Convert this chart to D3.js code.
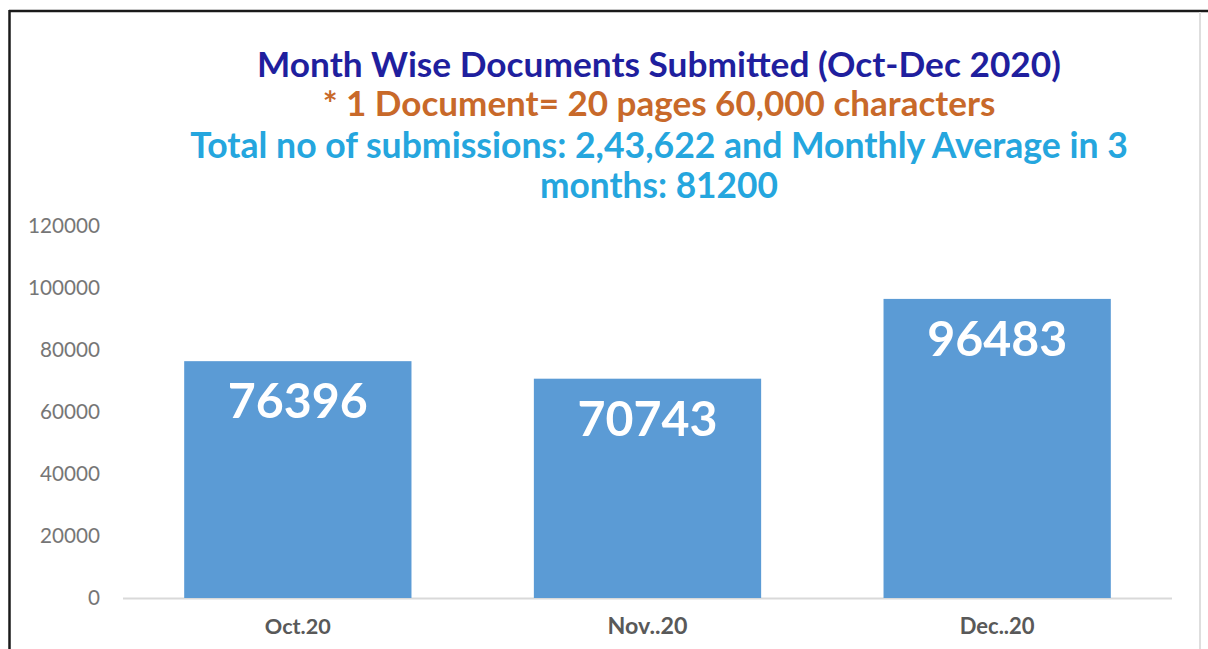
<!DOCTYPE html>
<html>
<head>
<meta charset="utf-8">
<script src="https://cdn.jsdelivr.net/npm/d3@7"></script>
<style>
  html, body { margin: 0; padding: 0; background: #fff; }
  svg { display: block; }
</style>
</head>
<body>
<svg id="chart" width="1208" height="649"></svg>
<script>
// ---- data ----
const categories = ["Oct.20", "Nov..20", "Dec..20"];
const documents = [76396, 70743, 96483];
const yTicks = [0, 20000, 40000, 60000, 80000, 100000, 120000];
const titleLines = [
  "Month Wise Documents Submitted (Oct-Dec 2020)",
  "* 1 Document= 20 pages 60,000 characters",
  "Total no of submissions: 2,43,622 and Monthly Average in 3",
  "months: 81200"
];

// ---- layout ----
const W = 1208, H = 649;
const plot = { left: 123, right: 1172, top: 226, bottom: 598 };
const FONT = "Lato, 'Open Sans', 'DejaVu Sans', sans-serif";

const svg = d3.select("#chart");

// fit a text element to a target width by scaling font-size
function fitWidth(sel, target) {
  sel.each(function() {
    const w = this.getComputedTextLength();
    const fs = parseFloat(d3.select(this).attr("font-size"));
    if (w > 0) d3.select(this).attr("font-size", fs * target / w);
  });
}

// frame
svg.append("line").attr("x1", 9).attr("x2", W).attr("y1", 11).attr("y2", 11)
  .attr("stroke", "#1a1a1a").attr("stroke-width", 2.5);
svg.append("line").attr("x1", 9.5).attr("x2", 9.5).attr("y1", 10).attr("y2", H)
  .attr("stroke", "#1a1a1a").attr("stroke-width", 2.5);
svg.append("line").attr("x1", 1200).attr("x2", 1200).attr("y1", 12).attr("y2", H)
  .attr("stroke", "#dedede").attr("stroke-width", 2);

// scales
const x = d3.scaleBand().domain(categories)
  .range([plot.left, plot.right]).paddingInner(0.35).paddingOuter(0.175);
const y = d3.scaleLinear().domain([0, 120000]).range([plot.bottom, plot.top]);

// y axis (labels only)
const yAxis = svg.append("g").attr("transform", `translate(${plot.left},0)`)
  .call(d3.axisLeft(y).tickValues(yTicks).tickSize(0).tickPadding(23).tickFormat(d3.format("d")));
yAxis.select(".domain").remove();
yAxis.selectAll("text")
  .attr("font-family", FONT).attr("font-size", 18).attr("fill", "#767676");
yAxis.selectAll("text").each(function() {
  const t = d3.select(this);
  const target = t.text().length * 12;
  fitWidth(t, target);
});

// baseline
svg.append("line").attr("x1", plot.left).attr("x2", plot.right)
  .attr("y1", plot.bottom + 0.5).attr("y2", plot.bottom + 0.5)
  .attr("stroke", "#d9d9d9").attr("stroke-width", 2);

// bars
svg.append("g").selectAll("rect").data(documents).join("rect")
  .attr("x", (d, i) => x(categories[i]))
  .attr("y", d => y(d))
  .attr("width", x.bandwidth())
  .attr("height", d => y(0) - y(d))
  .attr("fill", "#5b9bd5");

// value labels
svg.append("g").selectAll("text").data(documents).join("text")
  .attr("x", (d, i) => x(categories[i]) + x.bandwidth() / 2)
  .attr("y", d => y(d) + 57)
  .attr("text-anchor", "middle")
  .attr("font-family", FONT).attr("font-weight", "bold").attr("font-size", 42)
  .attr("fill", "#ffffff")
  .text(d => d)
  .call(fitWidth, 140);

// category labels
const catWidths = [66, 80, 75];
svg.append("g").selectAll("text").data(categories).join("text")
  .attr("x", d => x(d) + x.bandwidth() / 2)
  .attr("y", 634)
  .attr("text-anchor", "middle")
  .attr("font-family", FONT).attr("font-weight", "bold").attr("font-size", 17)
  .attr("fill", "#595959")
  .text(d => d)
  .each(function(d, i) { fitWidth(d3.select(this), catWidths[i]); });

// titles
const titleStyles = [
  { y: 77, color: "#1f1f9e", width: 804 },
  { y: 116, color: "#c8692a", width: 673 },
  { y: 158, color: "#25a6de", width: 938 },
  { y: 198, color: "#25a6de", width: 238 }
];
svg.append("g").selectAll("text").data(titleLines).join("text")
  .attr("x", 659)
  .attr("y", (d, i) => titleStyles[i].y)
  .attr("text-anchor", "middle")
  .attr("font-family", FONT).attr("font-weight", "bold").attr("font-size", 28)
  .attr("fill", (d, i) => titleStyles[i].color)
  .text(d => d)
  .each(function(d, i) { fitWidth(d3.select(this), titleStyles[i].width); });
</script>
</body>
</html>
